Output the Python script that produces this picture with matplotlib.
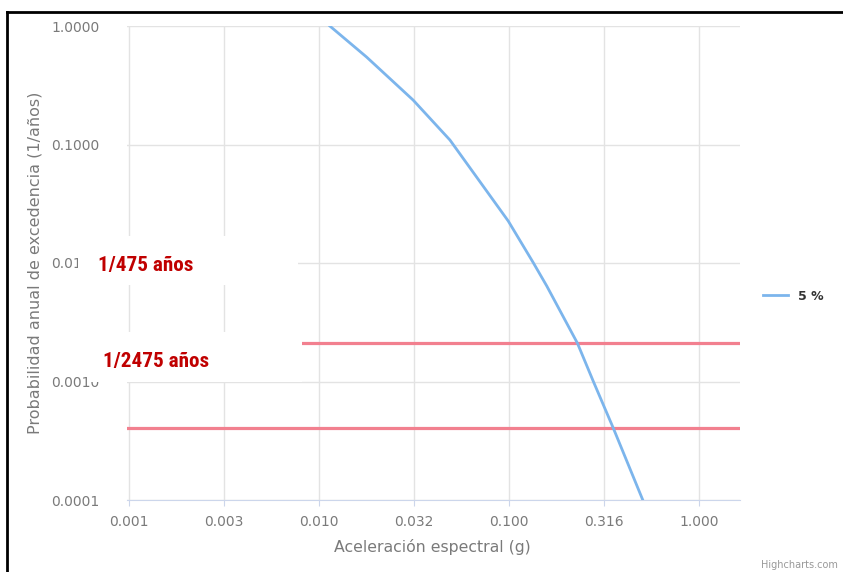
import numpy as np
import matplotlib
matplotlib.use("Agg")
import matplotlib.pyplot as plt
from matplotlib.patches import Rectangle
from matplotlib.lines import Line2D
from matplotlib.ticker import FixedLocator, NullLocator

# hazard curve (5 % damping)
accel = [0.0114, 0.0178, 0.0313, 0.0489, 0.0991, 0.134, 0.158, 0.229, 0.278, 0.354, 0.506]
prob = [1.0, 0.547, 0.237, 0.109, 0.0226, 0.0101, 0.0064, 0.00211, 0.00100, 0.000404, 0.0001]

# return period lines
periods = [475, 2475]
period_labels = ["1/475 años", "1/2475 años"]

x_ticks = [0.001, 10 ** -2.5, 0.01, 10 ** -1.5, 0.1, 10 ** -0.5, 1.0]
x_tick_labels = ["0.001", "0.003", "0.010", "0.032", "0.100", "0.316", "1.000"]
y_ticks = [0.0001, 0.001, 0.01, 0.1, 1.0]
y_tick_labels = ["0.0001", "0.0010", "0.0100", "0.1000", "1.0000"]

W, H = 843, 572
fig = plt.figure(figsize=(W / 100, H / 100), dpi=100)
fig.patch.set_facecolor("white")

# plot area in pixels: x 127..740, y 26..500
ax = fig.add_axes([127 / W, (H - 500) / H, (740 - 127) / W, (500 - 26) / H])
ax.set_xscale("log")
ax.set_yscale("log")
ax.set_xlim(10 ** (-3 - 2 / 190), 10 ** (611 / 190 - 3))
ax.set_ylim(1e-4, 1.0)

ax.xaxis.set_major_locator(FixedLocator(x_ticks))
ax.xaxis.set_minor_locator(NullLocator())
ax.yaxis.set_major_locator(FixedLocator(y_ticks))
ax.yaxis.set_minor_locator(NullLocator())
ax.set_xticklabels(x_tick_labels)
ax.set_yticklabels(y_tick_labels)

ax.grid(True, color="#e3e3e3", linewidth=1)
ax.set_axisbelow(True)
for side in ["top", "right", "left"]:
    ax.spines[side].set_visible(False)
ax.spines["bottom"].set_color("#ccd6eb")
ax.tick_params(axis="x", length=4, color="#ccd6eb", pad=7, labelsize=10, labelcolor="#7a7a7a")
ax.tick_params(axis="y", length=0, pad=20, labelsize=10, labelcolor="#7a7a7a")

line, = ax.plot(accel, prob, color="#7cb5ec", linewidth=2, label="5 %", zorder=3)
for p in periods:
    ax.axhline(1 / p, color="#f2808f", linewidth=2.3, zorder=2)

fig.text(35 / W, 1 - 263 / H, "Probabilidad anual de excedencia (1/años)", rotation=90,
         ha="center", va="center", fontsize=11.5, color="#7a7a7a")
fig.text(432 / W, 1 - 547 / H, "Aceleración espectral (g)", ha="center", va="center",
         fontsize=11.3, color="#7a7a7a")

leg = ax.legend(handles=[line], loc="center left", frameon=False,
                bbox_to_anchor=(752 / W, 1 - 296 / H), bbox_transform=fig.transFigure,
                handlelength=2.0, handletextpad=0.8, prop={"weight": "bold", "size": 9})
for t in leg.get_texts():
    t.set_color("#333333")

fig.text(838 / W, 1 - 565 / H, "Highcharts.com", ha="right", va="center",
         fontsize=7, color="#999999")

# white label boxes pasted over the chart
boxes = [(78, 236, 298, 285), (88, 332, 302, 382)]
text_pos = [(98, 266), (103, 362)]
for (x0, y0, x1, y1), (tx, ty), lab in zip(boxes, text_pos, period_labels):
    fig.add_artist(Rectangle((x0 / W, 1 - y1 / H), (x1 - x0) / W, (y1 - y0) / H,
                             transform=fig.transFigure, facecolor="white",
                             edgecolor="none", zorder=10))
    fig.text(tx / W, 1 - ty / H, lab, ha="left", va="center", fontsize=15.2,
             fontweight="bold", fontstretch="condensed", color="#c00000",
             family=["Roboto Condensed", "DejaVu Sans"], zorder=11)

# black frame on left and top
fig.add_artist(Line2D([7 / W, 7 / W], [0, 1 - 12 / H], color="black", linewidth=2,
                      transform=fig.transFigure, zorder=12))
fig.add_artist(Line2D([7 / W, 1], [1 - 12 / H, 1 - 12 / H], color="black", linewidth=2,
                      transform=fig.transFigure, zorder=12))

fig.savefig("out.png", dpi=100)
